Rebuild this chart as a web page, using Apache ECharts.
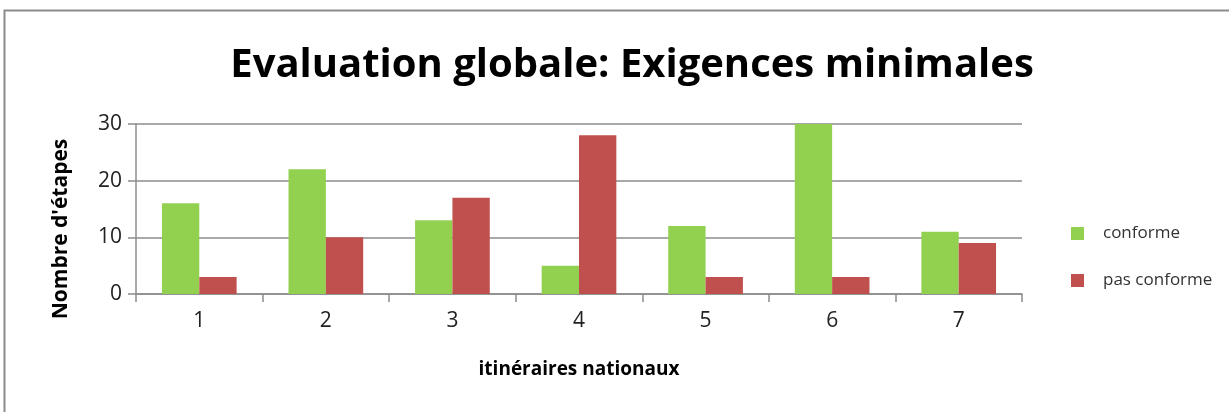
<!DOCTYPE html>
<html lang="fr">
<head>
<meta charset="UTF-8"/>
<script src="https://cdn.jsdelivr.net/npm/echarts@6/dist/echarts.min.js"></script>
<title>Evaluation globale</title>
<style>
  html, body { margin: 0; padding: 0; background: #fff; }
</style>
</head>
<body>
<div id="main" style="width:1229px;height:412px;"></div>
<script type="text/javascript">
    // données
    var categories = ['1', '2', '3', '4', '5', '6', '7'];
    var conforme = [16, 22, 13, 5, 12, 30, 11];
    var pasConforme = [3, 10, 17, 28, 3, 3, 9];

    var myChart = echarts.init(document.getElementById('main'));
    var font = 'Open Sans';

    var option = {
        backgroundColor: '#ffffff',
        animation: false,
        title: {
            text: 'Evaluation globale: Exigences minimales',
            left: 627,
            textAlign: 'center',
            top: 41,
            textStyle: {
                fontFamily: font,
                fontSize: 40,
                fontWeight: 'bold',
                color: '#000'
            }
        },
        graphic: [
            // cadre gris autour du graphique
            {
                type: 'rect',
                shape: {x: 4.5, y: 10.5, width: 1240, height: 420},
                style: {fill: 'none', stroke: '#8c8c8c', lineWidth: 2},
                silent: true
            },
            // titre de l'axe vertical
            {
                type: 'text',
                x: 61,
                y: 229,
                rotation: Math.PI / 2,
                style: {
                    text: "Nombre d'étapes",
                    fontFamily: font,
                    fontSize: 21,
                    fontWeight: 'bold',
                    fill: '#000',
                    align: 'center',
                    verticalAlign: 'middle'
                },
                silent: true
            }
        ],
        legend: {
            orient: 'vertical',
            left: 1066,
            top: 220,
            itemWidth: 13,
            itemHeight: 13,
            itemGap: 30,
            icon: 'rect',
            textStyle: {fontFamily: font, fontSize: 17, color: '#333', padding: [0, 0, 0, 14]},
            data: ['conforme', 'pas conforme']
        },
        grid: {left: 136, right: 207, top: 124, bottom: 118},
        xAxis: {
            type: 'category',
            data: categories,
            name: 'itinéraires nationaux',
            nameLocation: 'middle',
            nameGap: 66,
            nameTextStyle: {fontFamily: font, fontSize: 19, fontWeight: 'bold', color: '#000'},
            axisLine: {lineStyle: {color: '#8c8c8c', width: 1.5}},
            axisTick: {show: true, length: 8, lineStyle: {color: '#8c8c8c', width: 1.5}},
            axisLabel: {fontFamily: font, fontSize: 21, color: '#222', margin: 17}
        },
        yAxis: {
            type: 'value',
            min: 0,
            max: 30,
            interval: 10,
            axisLine: {show: true, lineStyle: {color: '#8c8c8c', width: 1.5}},
            axisTick: {show: true, length: 8, lineStyle: {color: '#8c8c8c', width: 1.5}},
            axisLabel: {fontFamily: font, fontSize: 21, color: '#222', margin: 14},
            splitLine: {lineStyle: {color: '#8c8c8c', width: 1.5}}
        },
        series: [
            {
                name: 'conforme',
                type: 'bar',
                data: conforme,
                barGap: '0%',
                barCategoryGap: '41%',
                itemStyle: {color: '#92D050'}
            },
            {
                name: 'pas conforme',
                type: 'bar',
                data: pasConforme,
                barGap: '0%',
                barCategoryGap: '41%',
                itemStyle: {color: '#C0504D'}
            }
        ]
    };

    myChart.setOption(option);
</script>
</body>
</html>
